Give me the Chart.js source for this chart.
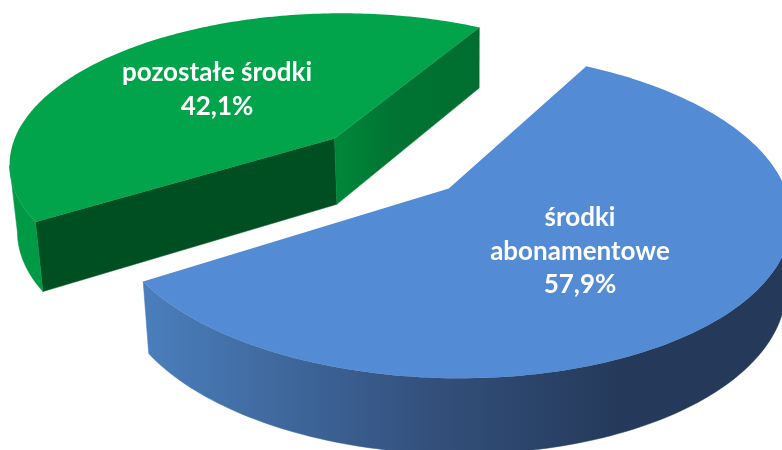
<!DOCTYPE html>
<html lang="pl">
<head>
<meta charset="utf-8">
<style>html,body{margin:0;padding:0;background:#fff}canvas{display:block}</style>
<script src="https://cdn.jsdelivr.net/npm/chart.js@4"></script>
</head>
<body>
<canvas id="c" width="782" height="450"></canvas>
<script>
const categories = ['środki abonamentowe', 'pozostałe środki'];
const labelLines = [['środki', 'abonamentowe'], ['pozostałe środki']];
const shareValues = [57.9, 42.1];
const topColors = ['#538cd4', '#02a44b'];

// perspective view of the pie
const CX = 390.2, CY = 162.8, F = 328, G = 151.5, K = 0.155;
const EXPLODE = 0.24, DEPTH = 67, VANISH_X = 470, TAPER = 0.017;
const labelAnchors = [[580, 218], [217, 73]];
const LINE_GAP = 33.5;

const project = (u, v) => { const w = 1 - K * v; return [CX + F * u / w, CY + G * v / w]; };
const lower = (p, v) => [p[0] + (VANISH_X - p[0]) * TAPER, p[1] + DEPTH / (1 - 0.1 * v)];

function wallPaints(ctx) {
  const blue = ctx.createLinearGradient(145, 0, 620, 0);
  blue.addColorStop(0, '#4a7ebc');
  blue.addColorStop(0.6, '#33507c');
  blue.addColorStop(1, '#253a5b');
  const blueCut = '#3a5f95';
  const greenRight = ctx.createLinearGradient(333, 0, 480, 0);
  greenRight.addColorStop(0, '#00883a');
  greenRight.addColorStop(0.4, '#007433');
  greenRight.addColorStop(1, '#006e30');
  return [
    { first: blueCut, arc: blue, last: blueCut },
    { first: '#004f23', arc: '#009a47', last: greenRight }
  ];
}

const pie3d = {
  id: 'pie3d',
  beforeDatasetsDraw(chart) {
    const ctx = chart.ctx;
    const arcs = chart.getDatasetMeta(0).data;
    const paints = wallPaints(ctx);
    arcs.forEach((arc, i) => {
      const a0 = arc.startAngle, a1 = arc.endAngle, mid = (a0 + a1) / 2;
      const ou = EXPLODE * Math.cos(mid), ov = EXPLODE * Math.sin(mid);
      const pts = [{ u: ou, v: ov, kind: 'first' }];
      const n = 160;
      for (let s = 0; s <= n; s++) {
        const a = a0 + (a1 - a0) * s / n;
        pts.push({ u: ou + Math.cos(a), v: ov + Math.sin(a), kind: s === 0 ? 'first' : 'arc' });
      }
      pts.push({ u: ou, v: ov, kind: 'last' });
      const scr = pts.map(p => project(p.u, p.v));
      // walls: only edges running right-to-left on a clockwise outline face the viewer.
      // Consecutive facing edges of the same kind are filled as one shape.
      let s = 0;
      while (s < pts.length - 1) {
        if (scr[s + 1][0] - scr[s][0] >= 0) { s++; continue; }
        const kind = pts[s + 1].kind;
        let e = s + 1;
        while (e < pts.length - 1 && pts[e + 1].kind === kind && scr[e + 1][0] - scr[e][0] < 0) e++;
        const paint = paints[i][kind];
        ctx.fillStyle = paint; ctx.strokeStyle = paint; ctx.lineWidth = 0.5;
        ctx.beginPath();
        for (let k = s; k <= e; k++) k === s ? ctx.moveTo(scr[k][0], scr[k][1]) : ctx.lineTo(scr[k][0], scr[k][1]);
        for (let k = e; k >= s; k--) { const l = lower(scr[k], pts[k].v); ctx.lineTo(l[0], l[1]); }
        ctx.closePath(); ctx.fill(); ctx.stroke();
        s = e;
      }
      ctx.fillStyle = arc.options.backgroundColor;
      ctx.beginPath();
      scr.forEach((p, k) => k ? ctx.lineTo(p[0], p[1]) : ctx.moveTo(p[0], p[1]));
      ctx.closePath(); ctx.fill();
    });
    return false;
  },
  afterDraw(chart) {
    const ctx = chart.ctx;
    ctx.fillStyle = '#fff';
    ctx.font = 'bold 26px Lato';
    ctx.textAlign = 'center';
    ctx.textBaseline = 'middle';
    shareValues.forEach((val, i) => {
      const lines = labelLines[i].concat(val.toFixed(1).replace('.', ',') + '%');
      lines.forEach((t, k) => ctx.fillText(t, labelAnchors[i][0], labelAnchors[i][1] + k * LINE_GAP));
    });
  }
};

new Chart(document.getElementById('c'), {
  type: 'pie',
  data: { labels: categories, datasets: [{ data: shareValues, backgroundColor: topColors, borderWidth: 0 }] },
  options: {
    responsive: false, animation: false, rotation: 29.3,
    plugins: { legend: { display: false }, tooltip: { enabled: false } }
  },
  plugins: [pie3d]
});
</script>
</body>
</html>
